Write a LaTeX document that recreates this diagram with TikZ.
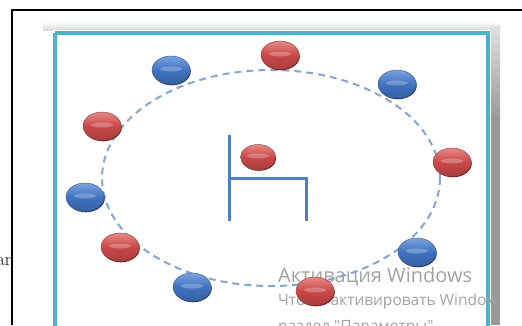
\documentclass[tikz,border=0pt]{standalone}
\usepackage{fontspec}
\newfontfamily\wmfont{Open Sans}
\usetikzlibrary{shapes.geometric}
\definecolor{redmain}{HTML}{C94848}
\definecolor{redlight}{HTML}{E58985}
\definecolor{reddark}{HTML}{7A2222}
\definecolor{bluemain}{HTML}{3F72C0}
\definecolor{bluelight}{HTML}{7BA3E0}
\definecolor{bluedark}{HTML}{233F70}
\definecolor{framecyan}{HTML}{4DB3C9}
\definecolor{chairblue}{HTML}{4B7FC4}
\definecolor{dashblue}{HTML}{86A6D0}
\definecolor{wmgrey}{HTML}{A3A3A3}
\tikzset{
  ballbase/.style={ellipse, inner sep=0pt, minimum width=38pt, minimum height=28pt,
    path picture={\fill[white,opacity=0.25] ([yshift=1pt]path picture bounding box.center) ellipse (11pt and 2.5pt);}},
  redball/.style={ballbase, top color=redlight, bottom color=redmain!85!black, middle color=redmain,
    draw=reddark!80, line width=0.5pt,
    preaction={fill=reddark, transform canvas={shift={(0.8pt,-1.3pt)}}}},
  blueball/.style={ballbase, top color=bluelight, bottom color=bluemain!85!black, middle color=bluemain,
    draw=bluedark!80, line width=0.5pt,
    preaction={fill=bluedark, transform canvas={shift={(0.8pt,-1.3pt)}}}},
  chairline/.style={draw=chairblue, line width=3pt},
  orbit/.style={draw=dashblue, line width=2pt, dash pattern=on 7pt off 5pt},
  wm/.style={text=wmgrey, font=\wmfont, anchor=base west, inner sep=0pt}
}
\begin{document}
\begin{tikzpicture}[x=1pt,y=-1pt]
\useasboundingbox (0,0) rectangle (522,325);
\begin{scope}
\clip (0,0) rectangle (522,325);
\fill[white] (0,0) rectangle (522,325);
% outer black frame
\draw[black, line width=1.3pt] (522,10) -- (12,10) -- (12,325);
% partial text at left
\node[anchor=base east, inner sep=0pt, font=\fontsize{18}{20}\selectfont] (ar) at (11.5,265) {ar};
% grey shadow behind picture
\shade[top color=black!3, bottom color=black!14] (43,23) rectangle (500,30);
\shade[top color=black!12, bottom color=black!40] (491,26) rectangle (500,120);
\fill[black!40] (491,119.5) rectangle (500,325);
\fill[white] (53,30) rectangle (490,325);
% cyan frame
\draw[framecyan, line width=4pt] (55,33) -- (488,33) -- (488,330) (55,330) -- (55,33);
% dashed ellipse
\draw[orbit] (271,178) ellipse (169 and 108);
% chair
\coordinate (c1) at (229,135);
\coordinate (c2) at (229,221);
\coordinate (c3) at (229,178);
\coordinate (c4) at (306,178);
\coordinate (c5) at (306,221);
\draw[chairline] (c1) -- (c2);
\draw[chairline] (c3) -- (c4) -- (c5);
% balls
\node[redball] (r1) at (280,55) {};
\node[blueball] (b1) at (171,70) {};
\node[blueball] (b2) at (397,84) {};
\node[redball] (r2) at (102,126) {};
\node[redball] (r3) at (452,162) {};
\node[redball, minimum width=35pt, minimum height=25pt] (rc) at (258,157) {};
\node[blueball] (b3) at (85,197) {};
\node[redball] (r4) at (120,247) {};
\node[blueball] (b4) at (417,252) {};
\node[blueball] (b5) at (192,287) {};
% watermark
\begin{scope}
\clip (53,250) rectangle (495,325);
\node[wm, font=\wmfont\fontsize{20}{22}\selectfont] (w1) at (278,282) {Активация Windows};
\node[wm, font=\wmfont\fontsize{15.5}{17}\selectfont] (w2) at (278,305) {Чтобы активировать Windows};
\node[wm, font=\wmfont\fontsize{15.5}{17}\selectfont] (w3) at (278,331) {раздел "Параметры".};
\end{scope}
\node[redball] (r5) at (315,291) {};
\end{scope}
\end{tikzpicture}
\end{document}
